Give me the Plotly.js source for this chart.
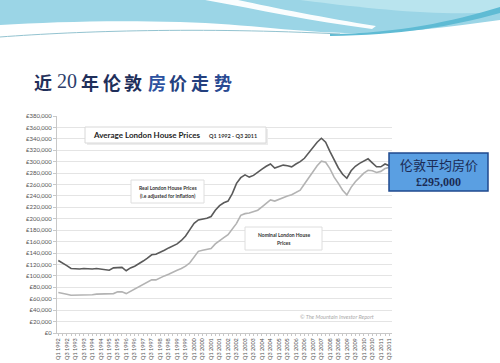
<!DOCTYPE html>
<html><head><meta charset="utf-8">
<script src="https://cdn.plot.ly/plotly-3.0.1.min.js"></script>
<style>html,body{margin:0;padding:0;background:#fff;overflow:hidden}#chart{width:500px;height:363px}</style>
</head><body><div id="chart"></div>
<script>
// Quarters Q1 1992 .. Q3 2011
const quarters = [
"Q1 1992","Q2 1992","Q3 1992","Q4 1992","Q1 1993","Q2 1993","Q3 1993","Q4 1993",
"Q1 1994","Q2 1994","Q3 1994","Q4 1994","Q1 1995","Q2 1995","Q3 1995","Q4 1995",
"Q1 1996","Q2 1996","Q3 1996","Q4 1996","Q1 1997","Q2 1997","Q3 1997","Q4 1997",
"Q1 1998","Q2 1998","Q3 1998","Q4 1998","Q1 1999","Q2 1999","Q3 1999","Q4 1999",
"Q1 2000","Q2 2000","Q3 2000","Q4 2000","Q1 2001","Q2 2001","Q3 2001","Q4 2001",
"Q1 2002","Q2 2002","Q3 2002","Q4 2002","Q1 2003","Q2 2003","Q3 2003","Q4 2003",
"Q1 2004","Q2 2004","Q3 2004","Q4 2004","Q1 2005","Q2 2005","Q3 2005","Q4 2005",
"Q1 2006","Q2 2006","Q3 2006","Q4 2006","Q1 2007","Q2 2007","Q3 2007","Q4 2007",
"Q1 2008","Q2 2008","Q3 2008","Q4 2008","Q1 2009","Q2 2009","Q3 2009","Q4 2009",
"Q1 2010","Q2 2010","Q3 2010","Q4 2010","Q1 2011","Q2 2011","Q3 2011"];

// Real London house prices (inflation adjusted), £ thousands
const realPrices = [
127,123,118,113,112,112,113,112,
112,113,112,111,110,114,115,115,
109,114,117,121,126,131,137,138,
141,145,149,152,156,162,170,181,
192,198,199,201,204,215,223,228,
231,244,262,272,277,273,276,282,
287,292,296,289,291,294,293,291,
296,300,306,316,325,334,341,334,
318,303,289,278,271,284,292,297,
301,305,298,291,291,296,293];

// Nominal London house prices, £ thousands
const nominalPrices = [
71,70,68,66,66,66,67,67,
67,68,68,68,68,69,72,72,
69,73,77,82,86,90,93,93,
97,100,103,107,110,113,117,123,
133,143,145,147,148,156,162,167,
172,182,192,206,209,210,212,215,
221,227,233,231,234,238,240,242,
246,250,261,272,283,293,301,299,
288,273,262,250,242,255,265,273,
280,285,284,281,283,288,290];

const yTickVals = [0,20,40,60,80,100,120,140,160,180,200,220,240,260,280,300,320,340,360,380];
const yTickText = ["£0","£20,000","£40,000","£60,000","£80,000","£100,000","£120,000","£140,000","£160,000","£180,000","£200,000","£220,000","£240,000","£260,000","£280,000","£300,000","£320,000","£340,000","£360,000","£380,000"];
const xTickText = quarters.map((q,i)=> i%2===0 ? q : "");

// plot area in pixels
const L=57,R=392,T=116,B=333,W=R-L,H=B-T;
const X = p => (p-L)/W;
const Y = p => (B-p)/H;
function pth(segs){
  return segs.map(s=>{
    if(s[0]==='Z') return 'Z';
    const nums=[];
    for(let i=1;i<s.length;i+=2){ nums.push(X(s[i]).toFixed(4)+','+Y(s[i+1]).toFixed(4)); }
    return s[0]+nums.join(' ');
  }).join(' ');
}
function rect(x0,y0,x1,y1,fill,line,lw){
  return {type:'rect',xref:'paper',yref:'paper',x0:X(x0),x1:X(x1),y0:Y(y1),y1:Y(y0),
    fillcolor:fill,line:{color:line||'rgba(0,0,0,0)',width:lw||0},layer:'above'};
}
function pathShape(segs,fill,line,lw){
  return {type:'path',xref:'paper',yref:'paper',path:pth(segs),fillcolor:fill||'rgba(0,0,0,0)',
    line:{color:line||'rgba(0,0,0,0)',width:lw||0},layer:'above'};
}

const shapes = [
  // banner
  pathShape([['M',0,0],['L',500,0],['L',500,20],['C',450,27,400,33,355,33],['C',300,33,250,24,180,22],['C',110,20,50,22,0,25],['Z']],'#9bd5e6'),
  pathShape([['M',300,0],['L',500,0],['L',500,12],['C',440,16,380,10,300,0],['Z']],'#b9e4ee'),
  pathShape([['M',205,0],['C',260,10,310,21,372,29],['L',376,26],['C',325,18,275,8,238,0],['Z']],'rgba(255,255,255,0.95)'),
  pathShape([['M',330,34],['C',400,33,450,22,500,7],['L',500,13],['C',450,27,400,35,330,36],['Z']],'#5fbbd4'),
  pathShape([['M',0,37],['C',80,31,200,27,340,34]],null,'#93c3d0',1),
  // chart title box
  rect(87,129,268,145,'#ececec'),
  rect(85,127,266,143,'#ffffff','#d8d8d8',1),
  // real box
  rect(131,180,204,203,'#ffffff','#dedede',1),
  // nominal box
  rect(245,227,322,250,'#ffffff','#dedede',1),
  // blue callout
  rect(389,153,488,191,'#5a9fe2','#1f4a8e',1.5)
];

function ann(text,x,y,size,opts){
  opts=opts||{};
  return {xref:'paper',yref:'paper',x:X(x),y:Y(y),text:text,showarrow:false,
    xanchor:opts.xanchor||'center',yanchor:'middle',
    font:{family:opts.family||'Lato, sans-serif',size:size,color:opts.color||'#222',
      weight:opts.weight||'normal',style:opts.style||'normal'}};
}

const titleChars = [
  ['近',43,'#1f2f5a'],['20',66.5,'#2c3d6b'],['年',90,'#1f2f5a'],['伦',112,'#1f2f5a'],['敦',133,'#1f2f5a'],
  ['房',157,'#2d52a0'],['价',177.5,'#24407e'],['走',200,'#24407e'],['势',222.5,'#2a4a92']
];
const annotations = titleChars.map(c=> c[0]==='20'
  ? ann(c[0],c[1],81,20,{family:'Liberation Serif, serif',color:c[2]})
  : ann(c[0],c[1],81.5,18,{family:'Noto Sans CJK SC, sans-serif',color:c[2],weight:'bold'}));

annotations.push(
  ann('Average London House Prices',91,135,8,{xanchor:'left',weight:'bold',color:'#1e1e1e'}),
  ann('Q1 1992 - Q3 2011',207,135.5,5.5,{xanchor:'left',color:'#333',weight:'bold'}),
  ann('Real London House Prices',167.5,188,5,{weight:'bold',color:'#333'}),
  ann('(i.e adjusted for inflation)',167.5,196,5,{weight:'bold',color:'#333'}),
  ann('Nominal London House',283.5,235,5,{weight:'bold',color:'#333'}),
  ann('Prices',283.5,242.5,5,{weight:'bold',color:'#333'}),
  ann('© The Mountain Investor Report',376,316.5,5.5,{xanchor:'right',color:'#aaaaaa',style:'italic'}),
  ann('伦敦平均房价',438.5,164,13,{family:'Noto Sans CJK SC, sans-serif',color:'#1a2b55'}),
  ann('£295,000',438.5,182,12,{family:'Liberation Serif, serif',color:'#1a2b55',weight:'bold'})
);

const traces = [
  {type:'scatter',mode:'lines',x:quarters,y:nominalPrices,name:'Nominal London House Prices',
   line:{color:'#b3b3b3',width:1.6},hoverinfo:'skip'},
  {type:'scatter',mode:'lines',x:quarters,y:realPrices,name:'Real London House Prices',
   line:{color:'#5a5a5a',width:1.6},hoverinfo:'skip'}
];

const layout = {
  width:500,height:363,
  margin:{l:L,r:500-R,t:T,b:363-B,pad:0},
  paper_bgcolor:'#ffffff',plot_bgcolor:'#ffffff',
  showlegend:false,
  xaxis:{type:'category',categoryorder:'array',categoryarray:quarters,
    range:[-0.31,78.64],tickmode:'array',tickvals:quarters,ticktext:xTickText,
    tickangle:-90,tickfont:{family:'Lato, sans-serif',size:5.5,color:'#555'},
    ticks:'outside',ticklen:2,tickcolor:'#c8c8c8',showline:true,linecolor:'#c8c8c8',linewidth:1,
    showgrid:false,zeroline:false,automargin:false,fixedrange:true},
  yaxis:{range:[0,380],tickmode:'array',tickvals:yTickVals,ticktext:yTickText,
    tickfont:{family:'Lato, sans-serif',size:6,color:'#555'},
    ticks:'outside',ticklen:3,tickcolor:'#c8c8c8',showline:true,linecolor:'#c8c8c8',linewidth:1,
    showgrid:true,gridcolor:'#e4e4e4',gridwidth:1,zeroline:false,automargin:false,fixedrange:true},
  shapes:shapes,
  annotations:annotations
};

Plotly.newPlot('chart',traces,layout,{displayModeBar:false,staticPlot:true});
</script>
</body></html>
